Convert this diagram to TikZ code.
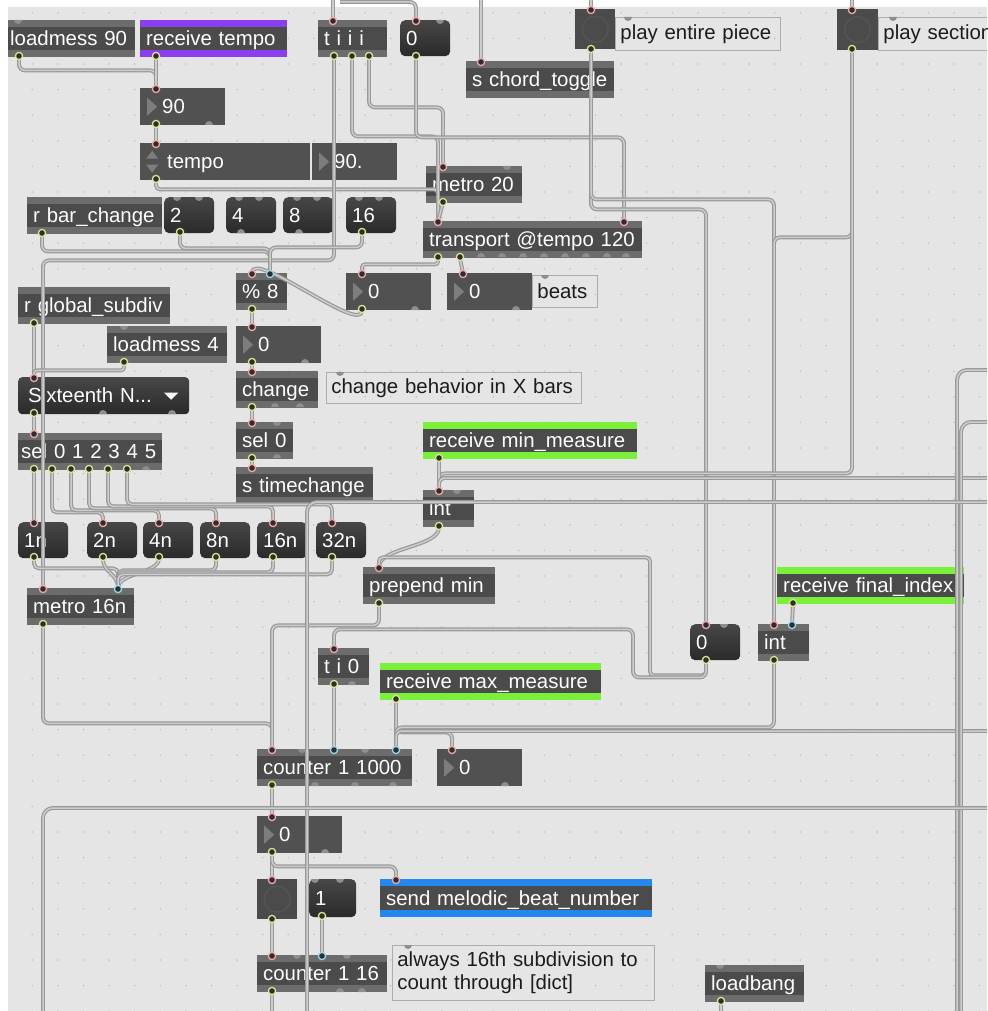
\documentclass[tikz,border=0pt]{standalone}
\usepackage{fontspec}
\setmainfont{Liberation Sans}

\definecolor{patchbg}{HTML}{E5E5E5}
\definecolor{griddot}{HTML}{C2C2C2}
\definecolor{objbody}{HTML}{4B4B4B}
\definecolor{objstrip}{HTML}{6C6C6C}
\definecolor{numbody}{HTML}{515151}
\definecolor{numtri}{HTML}{7D7D7D}
\definecolor{msgtop}{HTML}{474747}
\definecolor{msgbot}{HTML}{2A2A2A}
\definecolor{btnring}{HTML}{545454}
\definecolor{cmtline}{HTML}{ADADAD}
\definecolor{cmttext}{HTML}{1C1C1C}
\definecolor{rcvpurple}{HTML}{8B3DF2}
\definecolor{rcvgreen}{HTML}{7BF03B}
\definecolor{sndblue}{HTML}{2287EE}
\definecolor{cordout}{HTML}{999999}
\definecolor{cordin}{HTML}{CDCDCD}
\definecolor{portfill}{HTML}{2E2E2E}
\definecolor{portpink}{HTML}{F2A6A6}
\definecolor{portcyan}{HTML}{8FDDEB}
\definecolor{portout}{HTML}{DDE58E}
\definecolor{portoff}{HTML}{8E8E8E}

\begin{document}
\begin{tikzpicture}[
	x=1pt, y=-1pt,
	font=\fontsize{20.4}{23}\selectfont,
	strip/.style={path picture={
		\fill[#1] (path picture bounding box.north west) rectangle ([yshift=-7pt]path picture bounding box.north east);
		\fill[#1] (path picture bounding box.south west) rectangle ([yshift=7pt]path picture bounding box.south east);}},
	mobj/.style={anchor=north west, fill=objbody, text=white, inner xsep=6pt, inner ysep=0pt,
		minimum height=37pt, text width=#1-12pt, text height=15pt, text depth=1pt, align=left, strip=objstrip},
	mmsg/.style={anchor=north west, rounded corners=5pt, top color=msgtop, bottom color=msgbot, text=white,
		inner xsep=6pt, inner ysep=0pt, minimum height=36pt, text width=#1-12pt, text height=15pt, text depth=1pt, align=left},
	mnum/.style={anchor=north west, fill=numbody, text=white, inner xsep=22pt, inner ysep=0pt,
		minimum height=37pt, text width=#1-44pt, text height=15pt, text depth=1pt, align=left,
		path picture={\fill[numtri] ([xshift=7pt,yshift=9pt]path picture bounding box.west)
			-- ([xshift=7pt,yshift=-9pt]path picture bounding box.west)
			-- ([xshift=17pt]path picture bounding box.west) -- cycle;}},
	mattr/.style={anchor=north west, fill=numbody, text=white, inner xsep=27pt, inner ysep=0pt,
		minimum height=37pt, text width=#1-54pt, text height=15pt, text depth=1pt, align=left,
		path picture={
			\fill[numtri] ([xshift=6pt,yshift=3pt]path picture bounding box.west) -- ([xshift=18pt,yshift=3pt]path picture bounding box.west)
				-- ([xshift=12pt,yshift=11pt]path picture bounding box.west) -- cycle;
			\fill[numtri] ([xshift=6pt,yshift=-3pt]path picture bounding box.west) -- ([xshift=18pt,yshift=-3pt]path picture bounding box.west)
				-- ([xshift=12pt,yshift=-11pt]path picture bounding box.west) -- cycle;}},
	mmenu/.style={anchor=north west, rounded corners=4pt, top color=msgtop, bottom color=msgbot, text=white,
		inner xsep=10pt, inner ysep=0pt, minimum height=37pt, text width=#1-20pt, text height=15pt, text depth=1pt, align=left,
		path picture={\fill[white, sharp corners] ([xshift=-25pt,yshift=3pt]path picture bounding box.east)
			-- ([xshift=-11pt,yshift=3pt]path picture bounding box.east)
			-- ([xshift=-18pt,yshift=-4pt]path picture bounding box.east) -- cycle;}},
	mbtn/.style={anchor=north west, fill=objbody, minimum width=#1, minimum height=#1, inner sep=0pt,
		path picture={\draw[btnring, line width=1.5pt] (path picture bounding box.center) circle (13pt);}},
	mcmt/.style={anchor=north west, draw=cmtline, line width=0.8pt, text=cmttext, inner xsep=5pt, inner ysep=0pt,
		minimum height=33pt, text width=#1-10pt, align=left},
	cord/.style={draw=cordout, line width=1.2pt, double=cordin, double distance=1.5pt, rounded corners=6pt},
	inhot/.style={fill=portfill, draw=portpink, line width=1.3pt},
	incold/.style={fill=portfill, draw=portcyan, line width=1.3pt},
	outlet/.style={fill=portfill, draw=portout, line width=1.3pt}
	]
	\useasboundingbox (0,0) rectangle (987,1011);
	\clip (0,0) rectangle (987,1011);
	\fill[patchbg] (0,0) rectangle (987,1011);
	\foreach \i in {0,...,38}
		\foreach \j in {0,...,39}
			\fill[griddot] ({6.7+25.6*\i},{12.8+25.6*\j}) circle (0.9pt);
	\fill[white] (0,0) rectangle (987,7);
	\fill[white] (0,0) rectangle (8,1011);

	% tempo and transport
	\node[mobj=127, inner xsep=2pt, text width=123pt] (lm90) at (8,20) {loadmess 90};
	\node[mobj=147, strip=rcvpurple] (rtempo) at (140,20) {receive tempo};
	\node[mobj=69] (tiii) at (318,20) {t i i i};
	\node[mmsg=50] (msg0) at (400,20) {0};
	\node[mobj=148] (schord) at (466,61) {s chord\_toggle};
	\node[mbtn=40] (btnall) at (575,9) {};
	\node[mcmt=165] (cmtall) at (615,17) {play entire piece};
	\node[mbtn=41] (btnsec) at (837,9) {};
	\node[mcmt=150] (cmtsec) at (878,17) {play section};
	\node[mnum=85] (n90) at (140,88) {90};
	\node[mattr=170] (tempo) at (140,143) {tempo};
	\node[mnum=85] (tempoval) at (312,143) {90.};
	\node[mobj=96] (metro20) at (426,166) {metro 20};
	\node[mobj=135] (rbar) at (27,197) {r bar\_change};
	\node[mmsg=50] (msg2) at (164,197) {2};
	\node[mmsg=50] (msg4) at (226,197) {4};
	\node[mmsg=50] (msg8) at (283,197) {8};
	\node[mmsg=50] (msg16) at (346,197) {16};
	\node[mobj=219] (trans) at (423,221) {transport @tempo 120};
	\node[mobj=51] (mod8) at (236,273) {\% 8};
	\node[mnum=85] (nbar) at (346,273) {0};
	\node[mnum=85] (nbeats) at (447,273) {0};
	\node[mcmt=65, minimum height=32pt] (cmtbeats) at (532,275) {beats};

	% subdivision
	\node[mobj=152] (rgs) at (18,287) {r global\_subdiv};
	\node[mobj=120] (lm4) at (107,326) {loadmess 4};
	\node[mnum=85] (nchg) at (236,326) {0};
	\node[mobj=82] (chg) at (236,371) {change};
	\node[mcmt=255, minimum height=31pt] (cmtchg) at (326,372) {change behavior in X bars};
	\node[mmenu=171] (menu) at (18,377) {Sixteenth N...};
	\node[mobj=144, inner xsep=3pt, text width=138pt] (sel) at (18,433) {sel 0 1 2 3 4 5};
	\node[mobj=57] (sel0) at (236,422) {sel 0};
	\node[mobj=137] (stime) at (236,467) {s timechange};
	\node[mobj=214, strip=rcvgreen] (rmin) at (423,422) {receive min\_measure};
	\node[mobj=51] (intmin) at (423,490) {int};
	\foreach \n/\x in {1n/18, 2n/87, 4n/143, 8n/200, 16n/257, 32n/316}
		\node[mmsg=50] (msg\n) at (\x,522) {\n};
	\node[mobj=107] (m16) at (27,588) {metro 16n};

	% measure counting
	\node[mobj=132] (prep) at (363,567) {prepend min};
	\node[mobj=187, strip=rcvgreen] (rfin) at (777,567) {receive final\_index};
	\node[mmsg=50] (msg0b) at (690,624) {0};
	\node[mobj=51] (intfin) at (758,624) {int};
	\node[mobj=51] (ti0) at (318,648) {t i 0};
	\node[mobj=221, strip=rcvgreen] (rmax) at (380,663) {receive max\_measure};
	\node[mobj=155] (cnt) at (257,749) {counter 1 1000};
	\node[mnum=85] (ncnt) at (437,749) {0};
	\node[mnum=85] (nbeat) at (257,816) {0};
	\node[mbtn=40] (btnbeat) at (257,879) {};
	\node[mmsg=47, minimum height=38pt] (msg1) at (309,879) {1};
	\node[mobj=272, strip=sndblue, minimum height=38pt] (send) at (380,879) {send melodic\_beat\_number};
	\node[mobj=130] (cnt16) at (257,955) {counter 1 16};
	\node[mcmt=262, minimum height=55pt] (cmt16) at (392,945) {always 16th subdivision to\\count through [dict]};
	\node[mobj=99] (lbang) at (705,965) {loadbang};

	% free ends at the window edges
	\coordinate (topA) at (333,-3);
	\coordinate (topB) at (340,2);
	\coordinate (topC) at (481,-3);
	\coordinate (topD) at (591,-3);
	\coordinate (topE) at (852,-3);
	\coordinate (edgeA) at (992,370);
	\coordinate (edgeB) at (992,422);
	\coordinate (edgeC) at (992,478);
	\coordinate (edgeD) at (992,502);
	\coordinate (edgeE) at (992,731);
	\coordinate (edgeF) at (992,808);
	\coordinate (botA) at (957,1015);
	\coordinate (botB) at (961,1015);
	\coordinate (botC) at (307,1015);
	\coordinate (botD) at (43,1015);
	\coordinate (botE) at (272,1015);
	\coordinate (botF) at (721,1015);

	% cords
	\draw[cord] ([xshift=15]tiii.north west) -- (topA);
	\draw[cord] ([xshift=16]msg0.north west) |- (topB);
	\draw[cord] ([xshift=15]schord.north west) -- (topC);
	\draw[cord] ([xshift=16]btnall.north west) -- (topD);
	\draw[cord] ([xshift=15]btnsec.north west) -- (topE);
	\draw[cord] ([xshift=11]lm90.south west) -- ++(0,13) -| ([xshift=16]n90.north west);
	\draw[cord] ([xshift=16]rtempo.south west) -- ([xshift=16]n90.north west);
	\draw[cord] ([xshift=16]n90.south west) -- ([xshift=16]tempo.north west);
	\draw[cord, rounded corners=4pt] ([xshift=16]tempo.south west) -- ++(0,9) -| ([xshift=15]trans.north west);
	\draw[cord] ([xshift=16]tiii.south west) -- ++(0,203) -| ([xshift=16]m16.north west);
	\draw[cord] ([xshift=34]tiii.south west) -- ++(0,79) -| ([xshift=15]trans.north west);
	\draw[cord] ([xshift=51]tiii.south west) -- ++(0,50) -| ([xshift=17]metro20.north west);
	\draw[cord] ([xshift=16]msg0.south west) -- ++(0,81) -| ([xshift=201]trans.north west);
	\draw[cord] ([xshift=17]metro20.south west) -- ([xshift=15]trans.north west);
	\draw[cord] ([xshift=16]btnall.south west) -- ++(0,160) -| ([xshift=16]msg0b.north west);
	\draw[cord] ([xshift=16]btnall.south west) -- ++(0,150) -| ([xshift=16]intfin.north west);
	\draw[cord] ([xshift=15]btnsec.south west) -- ++(0,187) -| ([xshift=16]intfin.north west);
	\draw[cord] ([xshift=15]btnsec.south west) -- ++(0,423) -| ([xshift=16]intmin.north west);
	\draw[cord] ([xshift=15]rbar.south west) -- ++(0,17) -| ([xshift=34]mod8.north west);
	\draw[cord] ([xshift=16]msg2.south west) -- ++(0,15) -| ([xshift=34]mod8.north west);
	\draw[cord] ([xshift=16]msg16.south west) -- ++(0,14) -| ([xshift=34]mod8.north west);
	\draw[cord, rounded corners=3pt] ([xshift=15]trans.south west) -- ++(0,6) -| ([xshift=16]nbar.north west);
	\draw[cord] ([xshift=37]trans.south west) -- ([xshift=16]nbeats.north west);
	\draw[cord] ([xshift=16]nbar.south west) .. controls +(0,25) and +(0,-25) .. ([xshift=16]mod8.north west);
	\draw[cord] ([xshift=16]mod8.south west) -- ([xshift=16]nchg.north west);
	\draw[cord] ([xshift=16]nchg.south west) -- ([xshift=16]chg.north west);
	\draw[cord] ([xshift=16]chg.south west) -- ([xshift=16]sel0.north west);
	\draw[cord] ([xshift=16]sel0.south west) -- ([xshift=16]stime.north west);
	\draw[cord] ([xshift=16]rgs.south west) -- ([xshift=16]menu.north west);
	\draw[cord, rounded corners=3pt] ([xshift=17]lm4.south west) -- ++(0,7) -| ([xshift=16]menu.north west);
	\draw[cord] ([xshift=16]menu.south west) -- ([xshift=16]sel.north west);
	\draw[cord] ([xshift=16]sel.south west) -- ([xshift=16]msg1n.north west);
	\foreach \o/\m/\d in {34/msg2n/42, 53/msg4n/40, 71/msg8n/38, 90/msg16n/36, 109/msg32n/34}
		\draw[cord, rounded corners=5pt] ([xshift=\o]sel.south west) -- ++(0,\d) -| ([xshift=16]\m.north west);
	\draw[cord, rounded corners=5pt] ([xshift=16]msg1n.south west) -- ++(0,10) -| ([xshift=91]m16.north west);
	\draw[cord] ([xshift=16]msg2n.south west) .. controls +(0,15) and +(0,-15) .. ([xshift=91]m16.north west);
	\draw[cord] ([xshift=16]msg4n.south west) .. controls +(0,15) and +(0,-15) .. ([xshift=91]m16.north west);
	\draw[cord, rounded corners=5pt] ([xshift=16]msg8n.south west) -- ++(0,12) -| ([xshift=91]m16.north west);
	\draw[cord, rounded corners=5pt] ([xshift=16]msg16n.south west) -- ++(0,14) -| ([xshift=91]m16.north west);
	\draw[cord, rounded corners=5pt] ([xshift=16]msg32n.south west) -- ++(0,16) -| ([xshift=91]m16.north west);
	\draw[cord] ([xshift=16]m16.south west) -- ++(0,98) -| ([xshift=15]cnt.north west);
	\draw[cord] ([xshift=16]rmin.south west) -- ([xshift=16]intmin.north west);
	\draw[cord] (edgeC) -| ([xshift=16]intmin.north west);
	\draw[cord] ([xshift=16]intmin.south west) .. controls +(0,20) and +(0,-20) .. ([xshift=16]prep.north west);
	\draw[cord, rounded corners=4pt] ([xshift=16]msg0b.south west) -- ++(0,15) -| ++(-56,-118) -| ([xshift=16]prep.north west);
	\draw[cord] ([xshift=16]msg0b.south west) -- ++(0,17) -| ++(-73,-48) -| ([xshift=16]ti0.north west);
	\draw[cord] ([xshift=16]prep.south west) -- ++(0,21) -| ([xshift=15]cnt.north west);
	\draw[cord] ([xshift=16]ti0.south west) -- ([xshift=77]cnt.north west);
	\draw[cord] ([xshift=16]rfin.south west) -- ([xshift=34]intfin.north west);
	\draw[cord] ([xshift=16]rmax.south west) -- ([xshift=139]cnt.north west);
	\draw[cord] ([xshift=16]rmax.south west) -- ++(0,32) -| ([xshift=15]ncnt.north west);
	\draw[cord] ([xshift=16]intfin.south west) -- ++(0,66) -| ([xshift=139]cnt.north west);
	\draw[cord] (edgeE) -| ([xshift=139]cnt.north west);
	\draw[cord] ([xshift=15]cnt.south west) -- ([xshift=15]nbeat.north west);
	\draw[cord] ([xshift=15]nbeat.south west) -- ([xshift=15]btnbeat.north west);
	\draw[cord] ([xshift=15]nbeat.south west) -- ++(0,13) -| ([xshift=16]send.north west);
	\draw[cord] ([xshift=15]btnbeat.south west) -- ([xshift=15]cnt16.north west);
	\draw[cord] ([xshift=13]msg1.south west) -- ([xshift=65]cnt16.north west);
	\draw[cord] ([xshift=15]cnt16.south west) -- (botE);
	\draw[cord] ([xshift=16]lbang.south west) -- (botF);
	\draw[cord, rounded corners=10pt] (edgeA) -| (botA);
	\draw[cord, rounded corners=10pt] (edgeB) -| (botB);
	\draw[cord, rounded corners=10pt] (edgeD) -| (botC);
	\draw[cord, rounded corners=10pt] (edgeF) -| (botD);

	% inlets and outlets
	\foreach \x/\y in {156/88, 156/143, 438/221, 624/221, 333/20, 416/20, 481/61, 591/9, 852/9, 443/166,
		252/273, 362/273, 463/273, 252/326, 252/371, 252/422, 252/467, 34/377, 34/433,
		34/522, 103/522, 159/522, 216/522, 273/522, 332/522, 43/588, 439/490, 379/567, 706/624,
		774/624, 334/648, 272/749, 452/749, 272/816, 272/879, 396/879, 272/955}
		\draw[inhot] (\x,\y+1) circle (3.6pt);
	\foreach \x/\y in {270/273, 118/588, 792/624, 334/749, 396/749, 322/955}
		\draw[incold] (\x,\y+1) circle (3.6pt);
	\foreach \x/\y in {19/57, 156/57, 156/125, 156/180, 42/234, 180/233, 362/233, 334/57, 352/57, 369/57,
		416/57, 591/50, 852/50, 443/203, 438/258, 460/258, 252/310, 362/310, 252/363, 252/408, 252/459,
		34/324, 124/363, 34/414, 34/470, 52/470, 71/470, 89/470, 108/470, 127/470,
		34/558, 103/558, 159/558, 216/558, 273/558, 332/558, 43/625, 439/459, 439/527, 379/604,
		793/604, 706/661, 774/661, 334/685, 396/700, 272/786, 272/853, 272/920, 322/917, 272/992, 721/1002}
		\draw[outlet] (\x,\y-1) circle (3.6pt);
	% unused inlets and outlets
	\foreach \x/\y in {18/20, 440/20, 628/17, 893/17, 545/275, 340/372, 408/945, 507/166,
		177/197, 199/197, 239/197, 259/197, 297/197, 317/197, 359/197, 379/197, 277/422, 124/326,
		457/490, 724/624, 302/749, 365/749, 315/879, 340/879, 297/955, 347/955, 720/965}
		\fill[portoff] (\x-4,\y) arc (180:360:4pt) -- cycle;
	\foreach \x/\y in {209/125, 241/233, 299/233, 481/257, 502/257, 523/257, 544/257, 565/257, 586/257,
		607/257, 626/257, 415/310, 516/310, 305/363, 275/407, 300/407, 277/458, 103/414, 172/414,
		146/470, 352/685, 315/786, 355/786, 393/786, 505/786, 325/853, 340/992, 362/992}
		\fill[portoff] (\x-4,\y) arc (180:0:4pt) -- cycle;
\end{tikzpicture}
\end{document}
